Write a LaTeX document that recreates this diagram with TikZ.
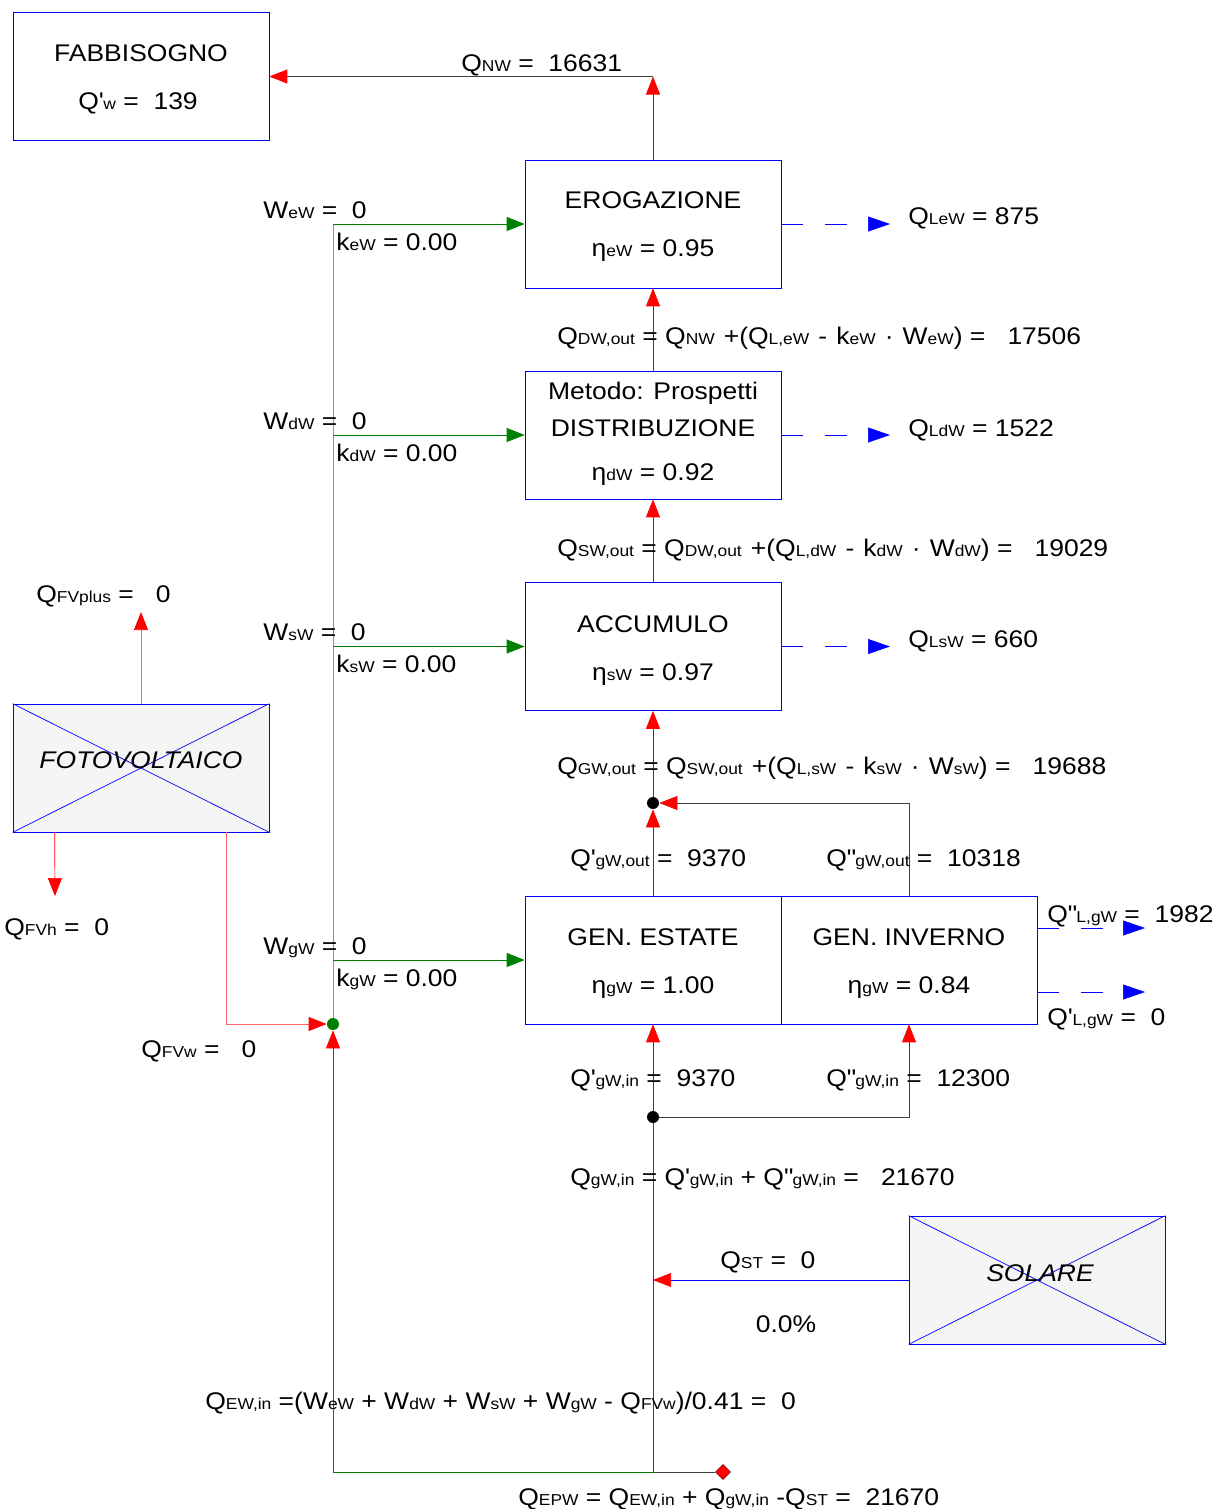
\documentclass[tikz,border=0pt]{standalone}
\usepackage{fontspec}
\setmainfont[FakeStretch=1.1]{Liberation Sans}
\usetikzlibrary{arrows.meta,shapes.geometric}

\newcommand\pd[1]{{\fontsize{9}{10}\selectfont #1}}
\newcommand\ap{\textquotesingle}
\newcommand\dap{\textquotedbl}

\tikzset{flusso/.style={draw=black!75,-{Triangle[length=0.36cm,width=0.28cm,color=red]}}}

\begin{document}
\begin{tikzpicture}[x=0.02cm,y=-0.02cm,
	font=\fontsize{13.7}{16}\selectfont,
	blocco/.style={rectangle,draw=blue,minimum width=5.12cm,minimum height=2.56cm,inner sep=0pt},
	fonte/.style={blocco,fill=gray!8},
	testo/.style={anchor=base west,inner sep=0pt},
	centro/.style={anchor=base,inner sep=0pt},
	perdita/.style={draw=blue,dash pattern=on 0.44cm off 0.44cm,-{Triangle[length=0.44cm,width=0.3cm]}},
	ausil/.style={draw=green!50!black,-{Triangle[length=0.36cm,width=0.28cm]}},
	nodo/.style={circle,fill=black,inner sep=0pt,minimum size=0.24cm},
	]
	\useasboundingbox (0,0) rectangle (1220,1509);
	
	% blocchi
	\node[blocco] (fab) at (141,76.5) {};
	\node[blocco] (ero) at (653,224) {};
	\node[blocco] (dis) at (653,435) {};
	\node[blocco] (acc) at (653,646.5) {};
	\node[blocco] (est) at (653,960) {};
	\node[blocco] (inv) at (909,960) {};
	\node[fonte] (fv) at (141,768) {};
	\node[fonte] (sol) at (1037,1280) {};
	\draw[blue] (fv.north west) -- (fv.south east) (fv.south west) -- (fv.north east);
	\draw[blue] (sol.north west) -- (sol.south east) (sol.south west) -- (sol.north east);
	
	\node[nodo] (gOut) at (653,803) {};
	\node[nodo] (gIn) at (653,1117) {};
	\node[nodo,fill=green!50!black] (fvw) at (333,1024) {};
	\node[diamond,fill=red,draw=red!60!black,inner sep=0pt,minimum size=0.3cm] (epw) at (723,1472) {};
	
	\coordinate (cNW) at (653,76.5);
	\coordinate (spine) at (333,0);
	\coordinate (spineTop) at (333,224);
	\coordinate (spineBot) at (333,1472);
	\coordinate (qEPW) at (653,1472);
	\coordinate (fvPlus) at (141,612);
	\coordinate (fvH) at (55,896);
	\coordinate (pE) at (890,224);
	\coordinate (pD) at (890,435);
	\coordinate (pS) at (890,646.5);
	\coordinate (pG2) at (1145,928);
	\coordinate (pG1) at (1145,992);
	
	% flussi
	\draw[flusso] (ero.north) -- (cNW);
	\draw[flusso] (cNW) -- (fab.east);
	\draw[flusso] (dis.north) -- (ero.south);
	\draw[flusso] (acc.north) -- (dis.south);
	\draw[flusso] (gOut) -- (acc.south);
	\draw[flusso] (est.north) -- (gOut);
	\draw[flusso] (inv.north) |- (gOut);
	\draw[flusso] (gIn) -- (est.south);
	\draw[flusso] (gIn) -| (inv.south);
	\draw[black!75] (gIn) -- (qEPW) -- (epw);
	\draw[flusso,draw=blue] (sol.west) -- (sol.west -| gIn);
	
	% perdite
	\draw[perdita] (ero.east) -- (pE);
	\draw[perdita] (dis.east) -- (pD);
	\draw[perdita] (acc.east) -- (pS);
	\draw[perdita] (inv.east |- pG2) -- (pG2);
	\draw[perdita] (inv.east |- pG1) -- (pG1);
	
	% ausiliari
	\draw[flusso,draw=green!50!black] (spineBot) -- (fvw);
	\draw[green!50!black!60] (fvw) -- (spineTop);
	\draw[green!50!black] (spineBot) -- (qEPW);
	\draw[ausil] (spineTop) -- (ero.west);
	\draw[ausil] (dis.west -| spine) -- (dis.west);
	\draw[ausil] (acc.west -| spine) -- (acc.west);
	\draw[ausil] (est.west -| spine) -- (est.west);
	
	% fotovoltaico
	\draw[flusso,draw=red!60] (fv.north) -- (fvPlus);
	\draw[flusso,draw=red] ([xshift=0.84cm]fv.south west) -- (fvH);
	\draw[flusso,draw=red!60] ([xshift=-0.86cm]fv.south east) |- (fvw);
	
	% testi
	\node[centro] at (141,61) {FABBISOGNO};
	\node[centro] at (138,109) {Q\ap\pd{w} =\ \ 139};
	\node[testo] at (461,71) {Q\pd{NW} =\ \ 16631};
	
	\node[centro] at (653,208) {EROGAZIONE};
	\node[centro] at (653,256) {η\pd{eW} = 0.95};
	\node[centro] at (653,399) {Metodo: Prospetti};
	\node[centro] at (653,436) {DISTRIBUZIONE};
	\node[centro] at (653,480) {η\pd{dW} = 0.92};
	\node[centro] at (653,632) {ACCUMULO};
	\node[centro] at (653,680) {η\pd{sW} = 0.97};
	\node[centro] at (653,945) {GEN. ESTATE};
	\node[centro] at (653,993) {η\pd{gW} = 1.00};
	\node[centro] at (909,945) {GEN. INVERNO};
	\node[centro] at (909,993) {η\pd{gW} = 0.84};
	\node[centro] at (141,768) {\itshape FOTOVOLTAICO};
	\node[centro] at (1040,1281) {\itshape SOLARE};
	
	\node[testo] at (263,218) {W\pd{eW} =\ \ 0};
	\node[testo] at (336,250) {k\pd{eW} = 0.00};
	\node[testo] at (263,429) {W\pd{dW} =\ \ 0};
	\node[testo] at (336,461) {k\pd{dW} = 0.00};
	\node[testo] at (263,640) {W\pd{sW} =\ \ 0};
	\node[testo] at (336,672) {k\pd{sW} = 0.00};
	\node[testo] at (263,954) {W\pd{gW} =\ \ 0};
	\node[testo] at (336,986) {k\pd{gW} = 0.00};
	
	\node[testo] at (908,224) {Q\pd{LeW} =\ 875};
	\node[testo] at (908,436) {Q\pd{LdW} =\ 1522};
	\node[testo] at (908,647) {Q\pd{LsW} =\ 660};
	\node[testo] at (1047,922) {Q\dap\pd{L,gW} =\ \ 1982};
	\node[testo] at (1047,1025) {Q\ap\pd{L,gW} =\ \ 0};
	
	\node[testo] at (557,344) {Q\pd{DW,out} = Q\pd{NW}\kern1pt{} +(Q\pd{L,eW}\kern1pt{} -\kern1pt{} k\pd{eW}\kern1pt{} ·\kern1pt{} W\pd{eW}) =\ \ \ 17506};
	\node[testo] at (557,556) {Q\pd{SW,out} = Q\pd{DW,out}\kern1pt{} +(Q\pd{L,dW}\kern1pt{} -\kern1pt{} k\pd{dW}\kern1pt{} ·\kern1pt{} W\pd{dW}) =\ \ \ 19029};
	\node[testo] at (557,774) {Q\pd{GW,out} = Q\pd{SW,out}\kern1pt{} +(Q\pd{L,sW}\kern1pt{} -\kern1pt{} k\pd{sW}\kern1pt{} ·\kern1pt{} W\pd{sW}) =\ \ \ 19688};
	\node[testo] at (570,866) {Q\ap\pd{gW,out} =\ \ 9370};
	\node[testo] at (826,866) {Q\dap\pd{gW,out} =\ \ 10318};
	\node[testo] at (570,1086) {Q\ap\pd{gW,in} =\ \ 9370};
	\node[testo] at (826,1086) {Q\dap\pd{gW,in} =\ \ 12300};
	\node[testo] at (570,1185) {Q\pd{gW,in} = Q\ap\pd{gW,in} + Q\dap\pd{gW,in} =\ \ \ 21670};
	\node[testo] at (720,1268) {Q\pd{ST} =\ \ 0};
	\node[centro] at (786,1332) {0.0\%};
	
	\node[testo] at (36,602) {Q\pd{FVplus} =\ \ \ 0};
	\node[testo] at (4,935) {Q\pd{FVh} =\ \ 0};
	\node[testo] at (141,1057) {Q\pd{FVw} =\ \ \ 0};
	
	\node[testo] at (205,1409) {Q\pd{EW,in} =(W\pd{eW} + W\pd{dW} + W\pd{sW} + W\pd{gW} - Q\pd{FVw})/0.41 =\ \ 0};
	\node[testo] at (518,1505) {Q\pd{EPW} = Q\pd{EW,in} + Q\pd{gW,in} -Q\pd{ST} =\ \ 21670};
\end{tikzpicture}
\end{document}
